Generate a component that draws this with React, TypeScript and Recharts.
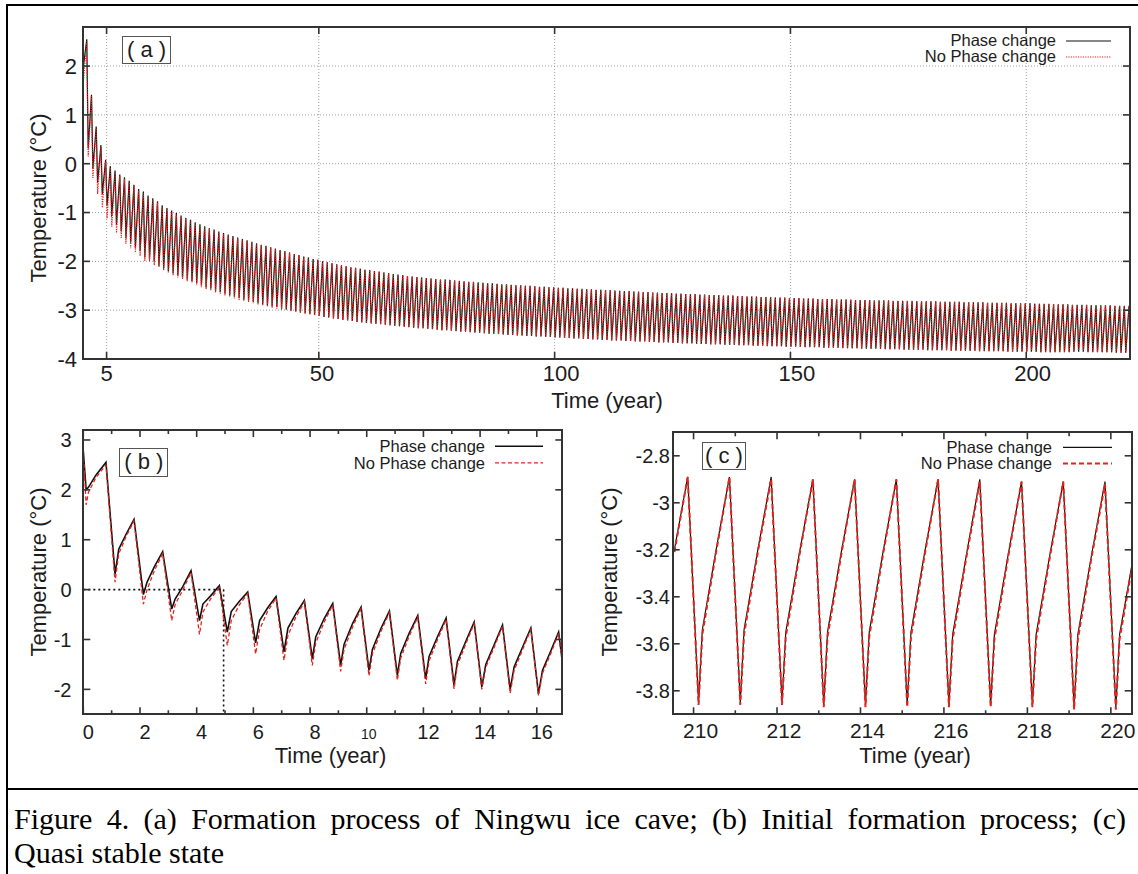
import React from 'react'
import { LineChart, Line, XAxis, YAxis, CartesianGrid, ReferenceLine, Legend } from 'recharts'

// ---------- data ----------
const seriesNames = ['Phase change', 'No Phase change']

// (a) one peak and one trough per year
const startTemp = 2.78
const troughPhase = 0.1
const peakPhase = 0.8

const phasePeaks = [
  2.55, 1.41, 0.76, 0.38, 0.08, -0.05, -0.14, -0.22, -0.28, -0.35,
  -0.43, -0.52, -0.57, -0.65, -0.71, -0.77, -0.85, -0.91, -0.96, -1.01,
  -1.06, -1.11, -1.15, -1.2, -1.24, -1.28, -1.32, -1.35, -1.39, -1.42,
  -1.45, -1.48, -1.51, -1.54, -1.57, -1.6, -1.63, -1.66, -1.68, -1.71,
  -1.74, -1.77, -1.79, -1.82, -1.85, -1.87, -1.9, -1.92, -1.95, -1.97,
  -2.0, -2.02, -2.04, -2.06, -2.08, -2.1, -2.12, -2.13, -2.15, -2.17,
  -2.18, -2.2, -2.21, -2.23, -2.24, -2.26, -2.27, -2.28, -2.3, -2.31,
  -2.32, -2.33, -2.34, -2.35, -2.36, -2.37, -2.37, -2.38, -2.39, -2.4,
  -2.41, -2.42, -2.42, -2.43, -2.44, -2.45, -2.45, -2.46, -2.47, -2.47,
  -2.48, -2.49, -2.49, -2.5, -2.5, -2.51, -2.52, -2.52, -2.53, -2.53,
  -2.54, -2.54, -2.55, -2.55, -2.56, -2.56, -2.57, -2.57, -2.58, -2.58,
  -2.59, -2.59, -2.6, -2.6, -2.61, -2.61, -2.62, -2.62, -2.63, -2.63,
  -2.64, -2.64, -2.65, -2.65, -2.65, -2.66, -2.66, -2.67, -2.67, -2.67,
  -2.68, -2.68, -2.69, -2.69, -2.69, -2.7, -2.7, -2.7, -2.71, -2.71,
  -2.72, -2.72, -2.72, -2.73, -2.73, -2.73, -2.74, -2.74, -2.74, -2.75,
  -2.75, -2.75, -2.76, -2.76, -2.76, -2.77, -2.77, -2.77, -2.77, -2.78,
  -2.78, -2.78, -2.78, -2.79, -2.79, -2.79, -2.79, -2.8, -2.8, -2.8,
  -2.8, -2.81, -2.81, -2.81, -2.81, -2.81, -2.82, -2.82, -2.82, -2.82,
  -2.82, -2.83, -2.83, -2.83, -2.83, -2.83, -2.84, -2.84, -2.84, -2.84,
  -2.84, -2.85, -2.85, -2.85, -2.85, -2.85, -2.86, -2.86, -2.86, -2.86,
  -2.86, -2.87, -2.87, -2.87, -2.87, -2.88, -2.88, -2.88, -2.88, -2.89,
  -2.89, -2.89, -2.89, -2.9, -2.9, -2.9, -2.9, -2.9, -2.91, -2.91,
  -2.91, -2.91,
]

const phaseTroughs = [
  2.0, 0.31, -0.1, -0.39, -0.62, -0.85, -1.07, -1.25, -1.39, -1.52,
  -1.62, -1.72, -1.79, -1.91, -1.95, -2.0, -2.09, -2.15, -2.2, -2.25,
  -2.29, -2.33, -2.37, -2.41, -2.45, -2.49, -2.53, -2.56, -2.6, -2.63,
  -2.66, -2.69, -2.72, -2.75, -2.78, -2.8, -2.83, -2.85, -2.88, -2.9,
  -2.92, -2.94, -2.96, -2.98, -3.0, -3.02, -3.04, -3.06, -3.08, -3.1,
  -3.12, -3.14, -3.15, -3.17, -3.18, -3.2, -3.21, -3.22, -3.24, -3.25,
  -3.26, -3.27, -3.28, -3.29, -3.3, -3.31, -3.32, -3.33, -3.34, -3.35,
  -3.36, -3.37, -3.37, -3.38, -3.39, -3.4, -3.41, -3.41, -3.42, -3.43,
  -3.44, -3.44, -3.45, -3.46, -3.46, -3.47, -3.48, -3.48, -3.49, -3.5,
  -3.51, -3.51, -3.52, -3.52, -3.53, -3.53, -3.54, -3.54, -3.55, -3.55,
  -3.56, -3.56, -3.57, -3.57, -3.58, -3.58, -3.59, -3.59, -3.6, -3.6,
  -3.61, -3.61, -3.62, -3.62, -3.62, -3.63, -3.63, -3.64, -3.64, -3.64,
  -3.65, -3.65, -3.66, -3.66, -3.66, -3.67, -3.67, -3.68, -3.68, -3.68,
  -3.69, -3.69, -3.69, -3.7, -3.7, -3.7, -3.71, -3.71, -3.71, -3.72,
  -3.72, -3.72, -3.73, -3.73, -3.73, -3.74, -3.74, -3.74, -3.74, -3.75,
  -3.75, -3.75, -3.75, -3.76, -3.76, -3.76, -3.76, -3.77, -3.77, -3.77,
  -3.77, -3.78, -3.78, -3.78, -3.78, -3.79, -3.79, -3.79, -3.79, -3.79,
  -3.8, -3.8, -3.8, -3.8, -3.81, -3.81, -3.81, -3.81, -3.81, -3.82,
  -3.82, -3.82, -3.82, -3.82, -3.83, -3.83, -3.83, -3.83, -3.83, -3.83,
  -3.84, -3.84, -3.84, -3.84, -3.84, -3.84, -3.85, -3.85, -3.85, -3.85,
  -3.85, -3.85, -3.85, -3.86, -3.86, -3.86, -3.86, -3.86, -3.86, -3.86,
  -3.85, -3.85, -3.85, -3.86, -3.86, -3.86, -3.86, -3.86, -3.86, -3.87,
  -3.87, -3.87,
]

// no-phase-change run differs only in the first decades, later it sits on the other curve
const noPhasePeaksEarly = [
  2.5, 1.38, 0.72, 0.34, 0.04, -0.08, -0.17, -0.25, -0.31, -0.38,
  -0.46, -0.55, -0.6, -0.68, -0.74, -0.8, -0.88, -0.94, -0.99, -1.04,
  -1.09, -1.13, -1.17, -1.22, -1.26, -1.3, -1.34, -1.37, -1.41, -1.44,
  -1.47, -1.5, -1.53, -1.56, -1.59, -1.61, -1.64, -1.67, -1.69, -1.72,
]
const noPhaseTroughsEarly = [
  1.7, 0.15, -0.29, -0.62, -0.9, -1.12, -1.29, -1.42, -1.52, -1.64,
  -1.73, -1.82, -1.89, -1.99, -2.0, -2.08, -2.12, -2.19, -2.24, -2.29,
  -2.33, -2.37, -2.41, -2.45, -2.49, -2.53, -2.57, -2.6, -2.64, -2.67,
  -2.7, -2.73, -2.76, -2.79, -2.81, -2.84, -2.86, -2.89, -2.91, -2.93,
  -2.95, -2.97, -2.99, -3.01, -3.03, -3.04, -3.06, -3.08, -3.09, -3.11,
]

// (b) initial years
const bTime = [
  0, 0.1, 0.18, 0.45, 0.8,
  1.12, 1.25, 1.5, 1.79,
  2.12, 2.25, 2.5, 2.8,
  3.12, 3.24, 3.5, 3.8,
  4.1, 4.22, 4.5, 4.8,
  5.08, 5.22, 5.5, 5.8,
  6.08, 6.22, 6.5, 6.8,
  7.08, 7.22, 7.5, 7.8,
  8.08, 8.2, 8.5, 8.8,
  9.08, 9.2, 9.5, 9.8,
  10.08, 10.2, 10.5, 10.8,
  11.08, 11.2, 11.5, 11.8,
  12.08, 12.2, 12.5, 12.8,
  13.08, 13.2, 13.5, 13.79,
  14.06, 14.2, 14.5, 14.79,
  15.06, 15.2, 15.5, 15.79,
  16.06, 16.2, 16.5, 16.77,
  17.06,
]
const bPhase = [
  2.78, 2.0, 2.05, 2.3, 2.55,
  0.31, 0.81, 1.1, 1.41,
  -0.1, 0.15, 0.45, 0.76,
  -0.39, -0.19, 0.05, 0.38,
  -0.62, -0.29, -0.12, 0.08,
  -0.85, -0.44, -0.24, -0.05,
  -1.07, -0.62, -0.37, -0.14,
  -1.25, -0.77, -0.48, -0.22,
  -1.39, -0.95, -0.58, -0.28,
  -1.52, -1.1, -0.68, -0.35,
  -1.62, -1.2, -0.78, -0.43,
  -1.72, -1.28, -0.87, -0.52,
  -1.79, -1.34, -0.94, -0.57,
  -1.91, -1.44, -1.03, -0.65,
  -1.95, -1.5, -1.1, -0.71,
  -2.0, -1.55, -1.15, -0.77,
  -2.09, -1.62, -1.22, -0.85,
  -2.15,
]
const bNoPhase = [
  2.78, 1.7, 1.95, 2.25, 2.5,
  0.15, 0.72, 1.05, 1.38,
  -0.29, 0.0, 0.37, 0.72,
  -0.62, -0.3, -0.02, 0.34,
  -0.9, -0.45, -0.18, 0.04,
  -1.12, -0.62, -0.31, -0.08,
  -1.29, -0.8, -0.44, -0.17,
  -1.42, -0.92, -0.55, -0.25,
  -1.52, -1.07, -0.65, -0.31,
  -1.64, -1.2, -0.75, -0.38,
  -1.73, -1.29, -0.84, -0.46,
  -1.82, -1.37, -0.93, -0.55,
  -1.89, -1.43, -1.0, -0.6,
  -1.99, -1.52, -1.08, -0.68,
  -2.0, -1.56, -1.15, -0.74,
  -2.08, -1.62, -1.2, -0.8,
  -2.12, -1.68, -1.27, -0.88,
  -2.19,
]
const bFreezeTime = 4.95
const bFreezeTemp = 0

// (c) quasi stable years
const cTime = [
  209.54,
  209.86, 210.12, 210.21, 210.54,
  210.86, 211.12, 211.21, 211.54,
  211.86, 212.12, 212.21, 212.54,
  212.86, 213.12, 213.21, 213.54,
  213.86, 214.12, 214.21, 214.54,
  214.86, 215.12, 215.21, 215.54,
  215.86, 216.12, 216.21, 216.54,
  216.86, 217.12, 217.21, 217.54,
  217.86, 218.12, 218.21, 218.54,
  218.86, 219.12, 219.21, 219.54,
  219.86, 220.12, 220.21, 220.54,
]
const cPhase = [
  -3.2,
  -2.89, -3.85, -3.54, -3.2,
  -2.89, -3.85, -3.54, -3.2,
  -2.89, -3.85, -3.55, -3.21,
  -2.9, -3.86, -3.55, -3.21,
  -2.9, -3.86, -3.55, -3.21,
  -2.9, -3.86, -3.55, -3.21,
  -2.9, -3.86, -3.56, -3.22,
  -2.9, -3.86, -3.56, -3.22,
  -2.91, -3.86, -3.56, -3.22,
  -2.91, -3.87, -3.56, -3.22,
  -2.91, -3.87, -3.56, -3.23,
]
const cNoPhase = [
  -3.21,
  -2.89, -3.86, -3.56, -3.21,
  -2.89, -3.86, -3.56, -3.21,
  -2.9, -3.86, -3.57, -3.22,
  -2.9, -3.87, -3.57, -3.22,
  -2.9, -3.87, -3.57, -3.22,
  -2.9, -3.87, -3.57, -3.22,
  -2.9, -3.87, -3.58, -3.23,
  -2.91, -3.87, -3.58, -3.23,
  -2.91, -3.87, -3.58, -3.23,
  -2.91, -3.88, -3.58, -3.23,
  -2.92, -3.88, -3.58, -3.24,
]

const aTicksX = [5, 50, 100, 150, 200]
const aTicksY = [-4, -3, -2, -1, 0, 1, 2]
const bTicksX = [0, 1, 2, 3, 4, 5, 6, 7, 8, 9, 10, 11, 12, 13, 14, 15, 16]
const bTicksY = [-2, -1, 0, 1, 2, 3]
const cTicksX = [210, 211, 212, 213, 214, 215, 216, 217, 218, 219, 220]
const cTicksY = [-3.8, -3.6, -3.4, -3.2, -3, -2.8]

const captionLines = [
  'Figure 4. (a) Formation process of Ningwu ice cave; (b) Initial formation process; (c)',
  'Quasi stable state',
]

// ---------- build rows ----------
type Row = { t: number; pc: number; np: number }

const noPhasePeaks = [...noPhasePeaksEarly, ...phasePeaks.slice(noPhasePeaksEarly.length)]
const noPhaseTroughs = [...noPhaseTroughsEarly, ...phaseTroughs.slice(noPhaseTroughsEarly.length)]

const aData: Row[] = [{ t: 0, pc: startTemp, np: startTemp }]
phasePeaks.forEach((peak, n) => {
  aData.push({ t: n + troughPhase, pc: phaseTroughs[n], np: noPhaseTroughs[n] })
  aData.push({ t: n + peakPhase, pc: peak, np: noPhasePeaks[n] })
})
const bData: Row[] = bTime.map((t, i) => ({ t, pc: bPhase[i], np: bNoPhase[i] }))
const cData: Row[] = cTime.map((t, i) => ({ t, pc: cPhase[i], np: cNoPhase[i] }))

// ---------- drawing ----------
const FONT = '"Liberation Sans", Arial, Helvetica, sans-serif'
const SERIF = '"Liberation Serif", "Times New Roman", serif'
const INK = '#1c1c1c'
const FRAME = '#333'

type Geo = { x: number; y: number; w: number; h: number }
type Stroke = { color: string; width: number; dash?: string }
type Spec = {
  left: number; top: number; width: number; height: number
  geo: Geo
  data: Row[]
  xDomain: [number, number]; yDomain: [number, number]
  xTicks: number[]; yTicks: number[]
  xText: (v: number) => string | null
  xFont: (v: number) => number
  xDx: (v: number) => number
  xMajor: (v: number) => boolean
  xBaseline: number
  yRight: number
  yFont: number
  grid: boolean
  strokes: [Stroke, Stroke]
  legend: { textRight: number; baseline: number; gap: number; x1: number; x2: number; dy: number; font: number }
  tag: { text: string; x: number; y: number; w: number; h: number }
  xTitle: [number, number]
  yTitle: [number, number]
  freeze?: boolean
}

const fmt = (v: number) => String(Number(v.toFixed(1)))

function AxisTitle({ px, py, caption, rot }: { px: number; py: number; caption: string; rot?: boolean }) {
  return (
    <text
      x={px}
      y={py}
      textAnchor="middle"
      dominantBaseline={rot ? 'central' : undefined}
      transform={rot ? `rotate(-90 ${px} ${py})` : undefined}
      fontSize={22}
      fill={INK}
      fontFamily={FONT}
    >
      {caption}
    </text>
  )
}

function makeXTick(s: Spec) {
  return (props: any) => {
    const x = props.x as number
    const v = props.payload.value as number
    const bottom = s.geo.y + s.geo.h
    const len = s.xMajor(v) ? 7 : 4
    const text = s.xText(v)
    return (
      <g>
        <line x1={x} x2={x} y1={bottom} y2={bottom - len} stroke={FRAME} strokeWidth={1.6} />
        <line x1={x} x2={x} y1={s.geo.y} y2={s.geo.y + len} stroke={FRAME} strokeWidth={1.6} />
        {text && (
          <text x={x + s.xDx(v)} y={s.xBaseline} textAnchor="middle" fontSize={s.xFont(v)} fill={INK} fontFamily={FONT}>
            {text}
          </text>
        )}
      </g>
    )
  }
}

function makeYTick(s: Spec) {
  return (props: any) => {
    const y = props.y as number
    const v = props.payload.value as number
    const l = s.geo.x
    const r = s.geo.x + s.geo.w
    return (
      <g>
        <line x1={l} x2={l + 7} y1={y} y2={y} stroke={FRAME} strokeWidth={1.6} />
        <line x1={r} x2={r - 7} y1={y} y2={y} stroke={FRAME} strokeWidth={1.6} />
        <text x={s.yRight} y={y} dy="0.36em" textAnchor="end" fontSize={s.yFont} fill={INK} fontFamily={FONT}>
          {fmt(v)}
        </text>
      </g>
    )
  }
}

function Panel({ s }: { s: Spec }) {
  const g = s.geo
  const L = s.legend
  const boxW = 260
  const boxH = 44
  const boxLeft = L.x2 + 4 - boxW
  const boxTop = L.baseline - 20
  return (
    <div style={{ position: 'absolute', left: s.left, top: s.top, width: s.width, height: s.height }}>
      <LineChart
        width={s.width}
        height={s.height}
        data={s.data}
        margin={{ top: g.y, right: s.width - g.x - g.w, bottom: 0, left: 0 }}
      >
        {s.grid && <CartesianGrid stroke="#a0a0a0" strokeDasharray="1 2" strokeWidth={1} />}
        <XAxis
          dataKey="t"
          type="number"
          domain={s.xDomain}
          allowDataOverflow
          ticks={s.xTicks}
          interval={0}
          height={s.height - g.y - g.h}
          tickLine={false}
          axisLine={false}
          tickSize={0}
          tick={makeXTick(s)}
          label={<AxisTitle px={s.xTitle[0]} py={s.xTitle[1]} caption="Time (year)" />}
        />
        <YAxis
          type="number"
          domain={s.yDomain}
          allowDataOverflow
          ticks={s.yTicks}
          interval={0}
          width={g.x}
          tickLine={false}
          axisLine={false}
          tickSize={0}
          tick={makeYTick(s)}
          label={<AxisTitle px={s.yTitle[0]} py={s.yTitle[1]} caption="Temperature (°C)" rot />}
        />
        {s.freeze && (
          <ReferenceLine
            segment={[{ x: 0, y: bFreezeTemp }, { x: bFreezeTime, y: bFreezeTemp }]}
            stroke="#111"
            strokeWidth={1.6}
            strokeDasharray="2 3"
          />
        )}
        {s.freeze && (
          <ReferenceLine
            segment={[{ x: bFreezeTime, y: bFreezeTemp }, { x: bFreezeTime, y: s.yDomain[0] }]}
            stroke="#111"
            strokeWidth={1.6}
            strokeDasharray="2 3"
          />
        )}
        <Line
          dataKey="pc"
          name={seriesNames[0]}
          type="linear"
          stroke={s.strokes[0].color}
          strokeWidth={s.strokes[0].width}
          strokeDasharray={s.strokes[0].dash}
          dot={false}
          isAnimationActive={false}
        />
        <Line
          dataKey="np"
          name={seriesNames[1]}
          type="linear"
          stroke={s.strokes[1].color}
          strokeWidth={s.strokes[1].width}
          strokeDasharray={s.strokes[1].dash}
          dot={false}
          isAnimationActive={false}
        />
        <Legend
          layout="horizontal"
          verticalAlign="middle"
          align="center"
          wrapperStyle={{ position: 'absolute', left: boxLeft, top: boxTop, width: boxW, height: boxH, margin: 0, padding: 0 }}
          content={() => (
            <svg width={boxW} height={boxH} style={{ display: 'block' }}>
              {s.strokes.map((st, i) => {
                const base = L.baseline - boxTop + i * L.gap
                return (
                  <g key={i}>
                    <text x={L.textRight - boxLeft} y={base} textAnchor="end" fontSize={L.font} fill={INK} fontFamily={FONT}>
                      {seriesNames[i]}
                    </text>
                    <line
                      x1={L.x1 - boxLeft}
                      x2={L.x2 - boxLeft}
                      y1={base - L.dy}
                      y2={base - L.dy}
                      stroke={st.color}
                      strokeWidth={st.width}
                      strokeDasharray={st.dash}
                    />
                  </g>
                )
              })}
            </svg>
          )}
        />
      </LineChart>
      <div
        style={{
          position: 'absolute',
          left: g.x - 1,
          top: g.y - 1,
          width: g.w + 2,
          height: g.h + 2,
          border: `2px solid ${FRAME}`,
          boxSizing: 'border-box',
          pointerEvents: 'none',
        }}
      />
      <div
        style={{
          position: 'absolute',
          left: s.tag.x,
          top: s.tag.y,
          width: s.tag.w,
          height: s.tag.h,
          border: '1.5px solid #555',
          boxSizing: 'border-box',
          background: '#fff',
          fontFamily: FONT,
          fontSize: 22,
          lineHeight: `${s.tag.h - 3}px`,
          textAlign: 'center',
          color: INK,
          whiteSpace: 'pre',
        }}
      >
        {s.tag.text}
      </div>
    </div>
  )
}

const RED = '#e3241c'
const BLACK = '#111'

const specA: Spec = {
  left: 0, top: 0, width: 1138, height: 420,
  geo: { x: 83, y: 27, w: 1047, h: 332 },
  data: aData,
  xDomain: [0, 222], yDomain: [-4, 2.8],
  xTicks: aTicksX, yTicks: aTicksY,
  xText: (v) => String(v),
  xFont: () => 22,
  xDx: (v) => (String(v).length - 1) * 3.2,
  xMajor: () => true,
  xBaseline: 381,
  yRight: 77,
  yFont: 22,
  grid: true,
  strokes: [
    { color: BLACK, width: 1.2 },
    { color: RED, width: 1.2, dash: '1.2 1.2' },
  ],
  legend: { textRight: 1056, baseline: 46, gap: 16, x1: 1066, x2: 1111, dy: 5, font: 16.5 },
  tag: { text: '( a )', x: 122, y: 36, w: 49, h: 28 },
  xTitle: [607, 408],
  yTitle: [38, 198],
}

const specB: Spec = {
  left: 0, top: 420, width: 580, height: 370,
  geo: { x: 83.3, y: 10, w: 479, h: 284.3 },
  data: bData,
  xDomain: [0, 16.9], yDomain: [-2.5, 3.2],
  xTicks: bTicksX, yTicks: bTicksY,
  xText: (v) => (v % 2 === 0 ? String(v) : null),
  xFont: (v) => (v === 10 ? 14 : 20),
  xDx: (v) => (v === 10 ? 2 : 5),
  xMajor: (v) => v % 2 === 0,
  xBaseline: 319,
  yRight: 71.5,
  yFont: 20,
  grid: false,
  strokes: [
    { color: BLACK, width: 1.6 },
    { color: RED, width: 1.3, dash: '4 2.5' },
  ],
  legend: { textRight: 485, baseline: 31.7, gap: 16.6, x1: 495, x2: 543, dy: 5.7, font: 16.5 },
  tag: { text: '( b )', x: 119.3, y: 28.3, w: 49, h: 28.4 },
  xTitle: [330.5, 342.7],
  yTitle: [38, 152],
  freeze: true,
}

const specC: Spec = {
  left: 580, top: 420, width: 558, height: 370,
  geo: { x: 92.7, y: 12.3, w: 459, h: 282 },
  data: cData,
  xDomain: [209.5, 220.5], yDomain: [-3.9, -2.7],
  xTicks: cTicksX, yTicks: cTicksY,
  xText: (v) => (v % 2 === 0 ? String(v) : null),
  xFont: () => 21,
  xDx: () => 7,
  xMajor: (v) => v % 2 === 0,
  xBaseline: 317.7,
  yRight: 90,
  yFont: 20,
  grid: false,
  strokes: [
    { color: BLACK, width: 1.2 },
    { color: RED, width: 2, dash: '5 3' },
  ],
  legend: { textRight: 472, baseline: 33.3, gap: 16, x1: 483, x2: 532, dy: 5.6, font: 16.5 },
  tag: { text: '( c )', x: 122.3, y: 21.7, w: 43.4, h: 28.3 },
  xTitle: [335, 342.7],
  yTitle: [29, 152],
}

export default function App() {
  const captionStyle: React.CSSProperties = {
    position: 'absolute',
    left: 14,
    width: 1112,
    fontFamily: SERIF,
    fontSize: 30,
    lineHeight: '34px',
    color: '#000',
    whiteSpace: 'nowrap',
  }
  return (
    <div style={{ position: 'absolute', left: 0, top: 0, width: 1138, height: 874, overflow: 'hidden', background: '#fff' }}>
      <div
        style={{
          position: 'absolute',
          left: 6,
          top: 4,
          width: 1300,
          height: 1000,
          borderTop: '2px solid #000',
          borderLeft: '2px solid #000',
        }}
      />
      <Panel s={specA} />
      <Panel s={specB} />
      <Panel s={specC} />
      <div style={{ position: 'absolute', left: 6, top: 788, width: 1300, height: 2, background: '#000' }} />
      <div style={{ ...captionStyle, top: 802, textAlign: 'justify', textAlignLast: 'justify' }}>
        {captionLines[0]}
      </div>
      <div style={{ ...captionStyle, top: 836 }}>{captionLines[1]}</div>
    </div>
  )
}
